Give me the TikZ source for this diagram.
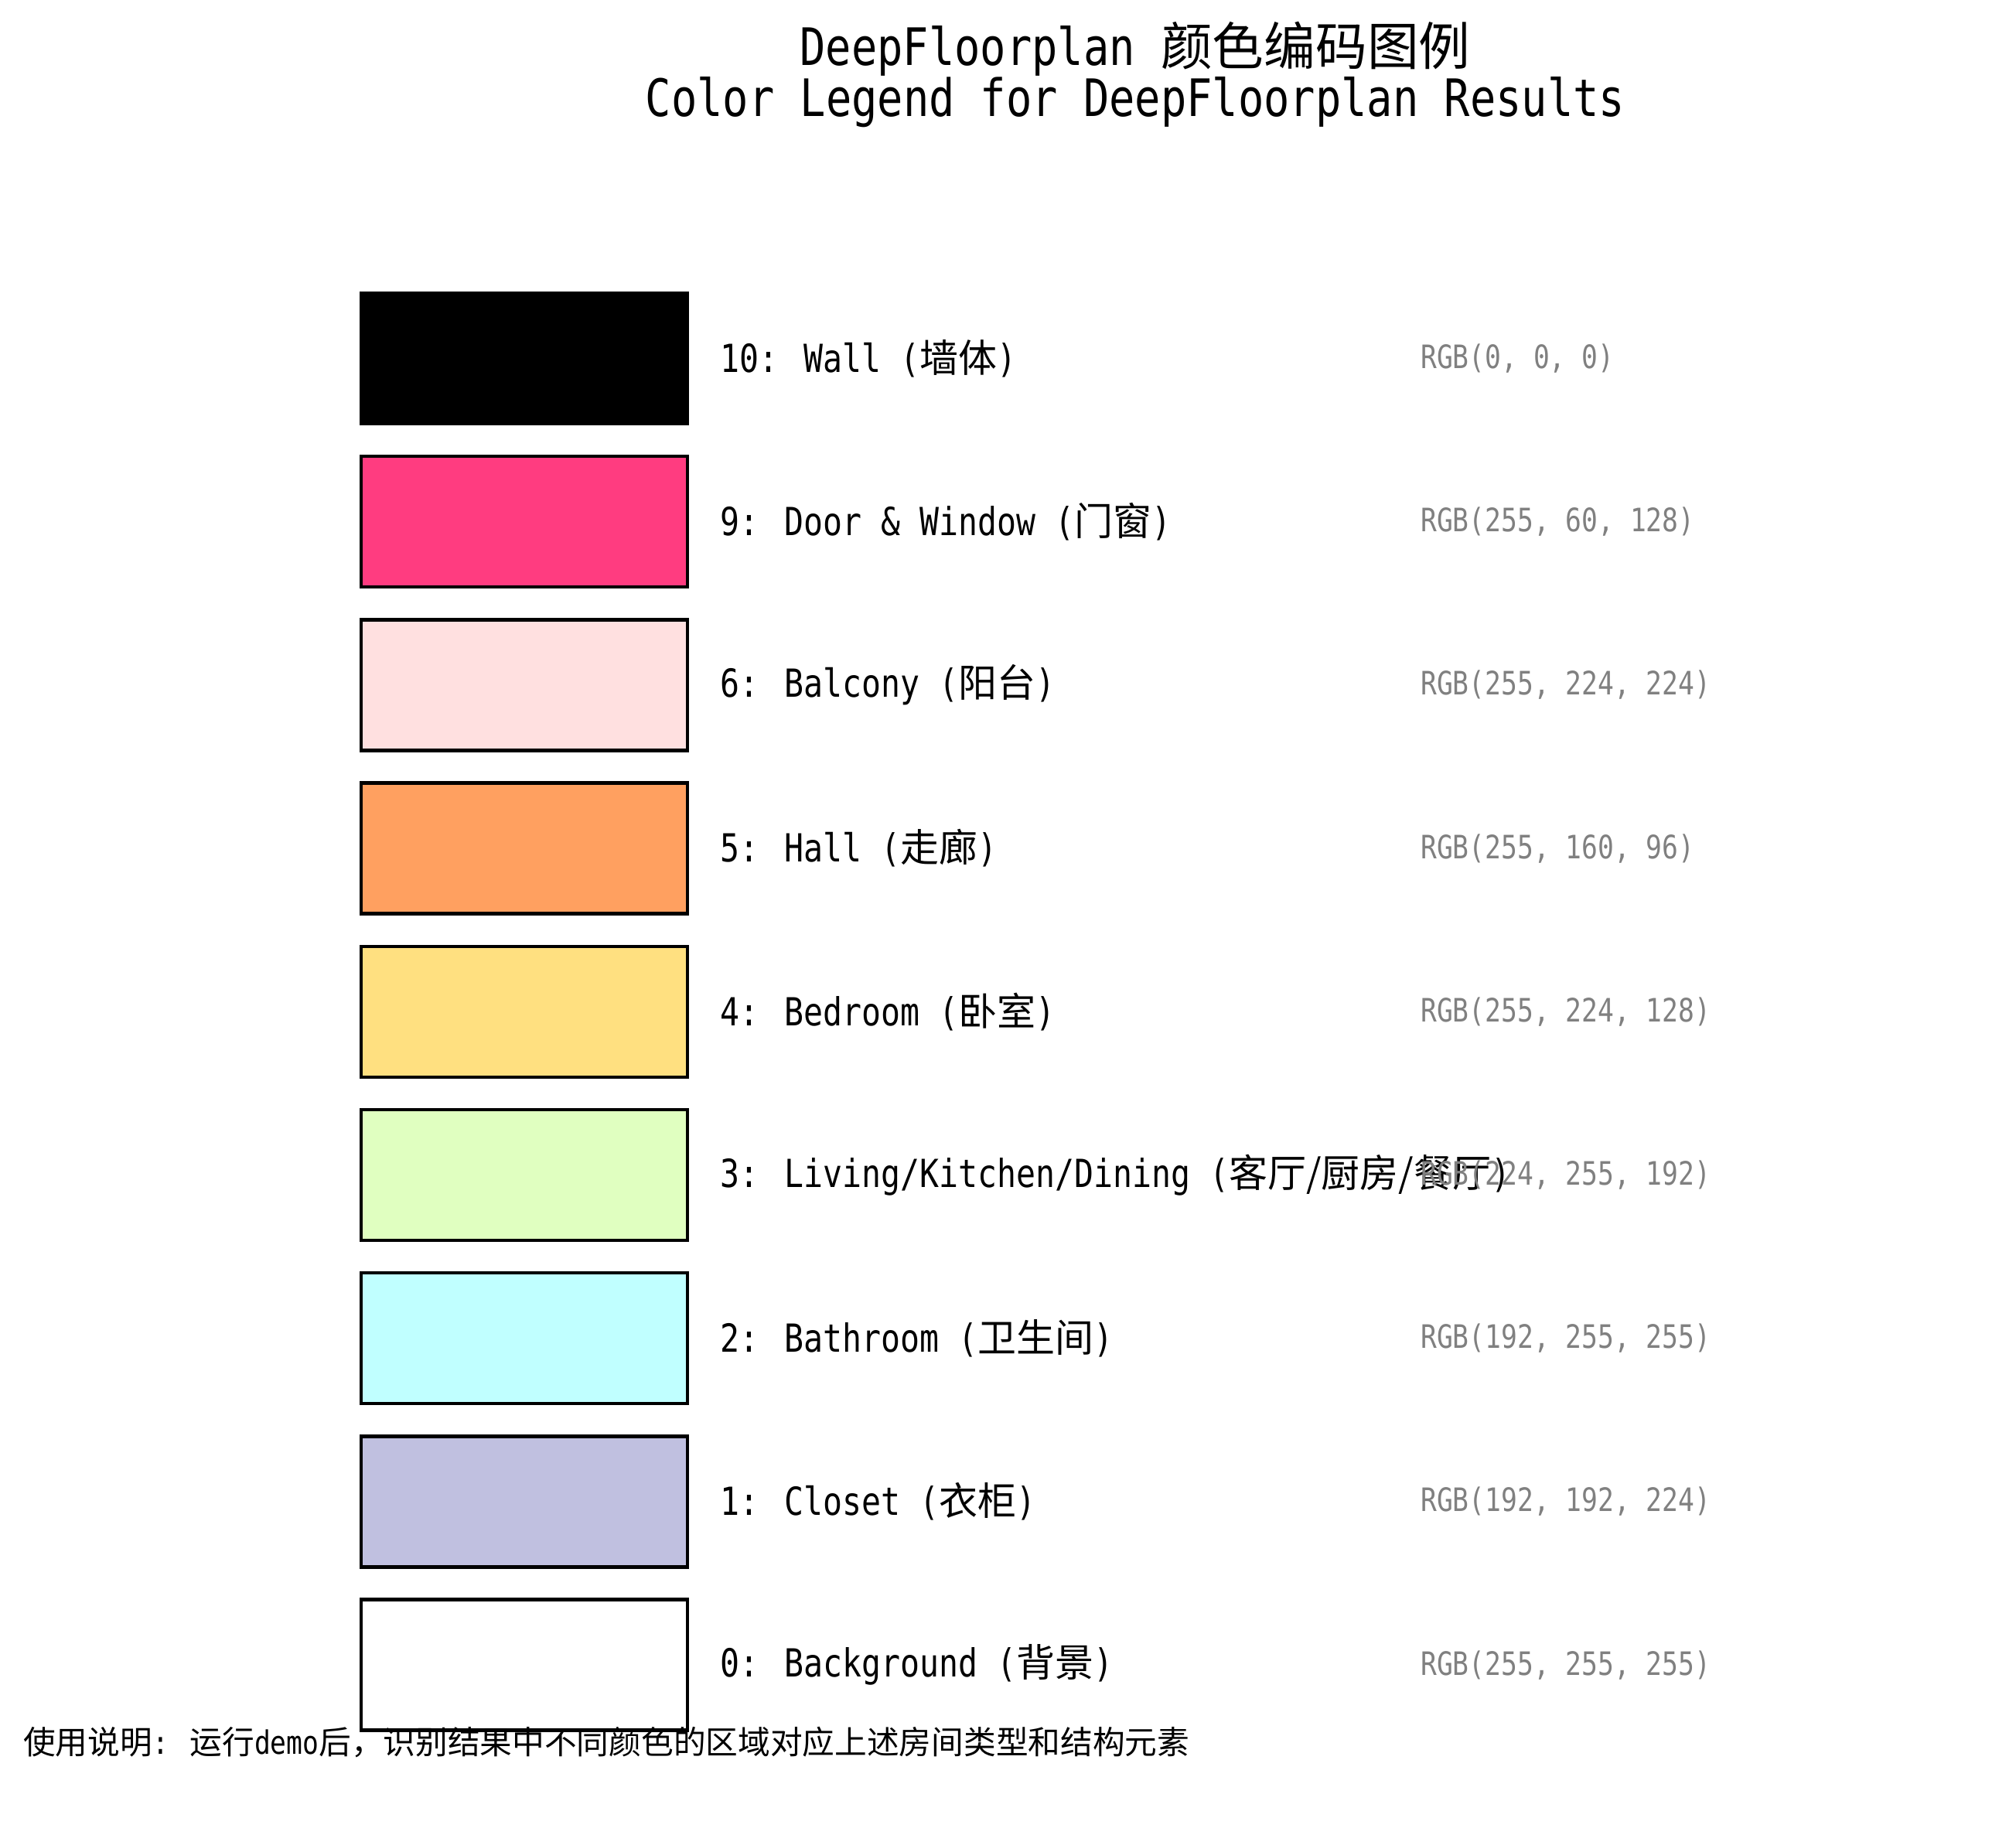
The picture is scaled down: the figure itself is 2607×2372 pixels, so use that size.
\documentclass[tikz,border=0pt]{standalone}
\usepackage{fontspec}
\setmainfont[FakeStretch=0.83]{DejaVu Sans Mono}
\newfontfamily\cjk{Noto Sans CJK SC}
\newcommand{\zh}[1]{{\cjk #1}}
\definecolor{cwall}{RGB}{0,0,0}
\definecolor{cdoor}{RGB}{255,60,128}
\definecolor{cbalc}{RGB}{255,224,224}
\definecolor{chall}{RGB}{255,160,96}
\definecolor{cbed}{RGB}{255,224,128}
\definecolor{cliv}{RGB}{224,255,192}
\definecolor{cbath}{RGB}{192,255,255}
\definecolor{cclos}{RGB}{192,192,224}
\definecolor{cback}{RGB}{255,255,255}
\definecolor{rgbgray}{RGB}{128,128,128}
\begin{document}
\begin{tikzpicture}[x=1pt,y=-1pt,
  swatch/.style={draw=black,line width=4.5pt,minimum width=422pt,minimum height=169pt,inner sep=0pt,anchor=center},
  lbl/.style={anchor=west,inner sep=0pt,font=\fontsize{50}{60}\selectfont,text=black},
  rgb/.style={anchor=west,inner sep=0pt,font=\fontsize{41.7}{50}\selectfont,text=rgbgray},
  ttl/.style={align=center,inner sep=0pt,font=\fontsize{66.7}{64}\selectfont,text=black},
  note/.style={anchor=west,inner sep=0pt,font=\fontsize{41.7}{50}\selectfont,text=black}]
\useasboundingbox[fill=white] (0,0) rectangle (2607,2372);
\node[ttl] (title) at (1468,96) {DeepFloorplan \zh{颜色编码图例}\\Color Legend for DeepFloorplan Results};
% rows
\node[swatch,fill=cwall]  (s10) at (678,463.5) {};
\node[swatch,fill=cdoor]  (s9)  at (678,674.7) {};
\node[swatch,fill=cbalc]  (s6)  at (678,885.9) {};
\node[swatch,fill=chall]  (s5)  at (678,1097.1) {};
\node[swatch,fill=cbed]   (s4)  at (678,1308.3) {};
\node[swatch,fill=cliv]   (s3)  at (678,1519.5) {};
\node[swatch,fill=cbath]  (s2)  at (678,1730.7) {};
\node[swatch,fill=cclos]  (s1)  at (678,1941.9) {};
\node[swatch,fill=cback]  (s0)  at (678,2153.1) {};
\node[lbl] (l10) at (931,463.5)  {10: Wall (\zh{墙体})};
\node[lbl] (l9)  at (931,674.7)  {9: Door \& Window (\zh{门窗})};
\node[lbl] (l6)  at (931,885.9)  {6: Balcony (\zh{阳台})};
\node[lbl] (l5)  at (931,1097.1) {5: Hall (\zh{走廊})};
\node[lbl] (l4)  at (931,1308.3) {4: Bedroom (\zh{卧室})};
\node[lbl] (l3)  at (931,1519.5) {3: Living/Kitchen/Dining (\zh{客厅/厨房/餐厅})};
\node[lbl] (l2)  at (931,1730.7) {2: Bathroom (\zh{卫生间})};
\node[lbl] (l1)  at (931,1941.9) {1: Closet (\zh{衣柜})};
\node[lbl] (l0)  at (931,2153.1) {0: Background (\zh{背景})};
\node[rgb] (r10) at (1837,463.5)  {RGB(0, 0, 0)};
\node[rgb] (r9)  at (1837,674.7)  {RGB(255, 60, 128)};
\node[rgb] (r6)  at (1837,885.9)  {RGB(255, 224, 224)};
\node[rgb] (r5)  at (1837,1097.1) {RGB(255, 160, 96)};
\node[rgb] (r4)  at (1837,1308.3) {RGB(255, 224, 128)};
\node[rgb] (r3)  at (1837,1519.5) {RGB(224, 255, 192)};
\node[rgb] (r2)  at (1837,1730.7) {RGB(192, 255, 255)};
\node[rgb] (r1)  at (1837,1941.9) {RGB(192, 192, 224)};
\node[rgb] (r0)  at (1837,2153.1) {RGB(255, 255, 255)};
\node[note] (foot) at (30,2253) {\zh{使用说明}: \zh{运行}demo\zh{后，识别结果中不同颜色的区域对应上述房间类型和结构元素}};
\end{tikzpicture}
\end{document}
